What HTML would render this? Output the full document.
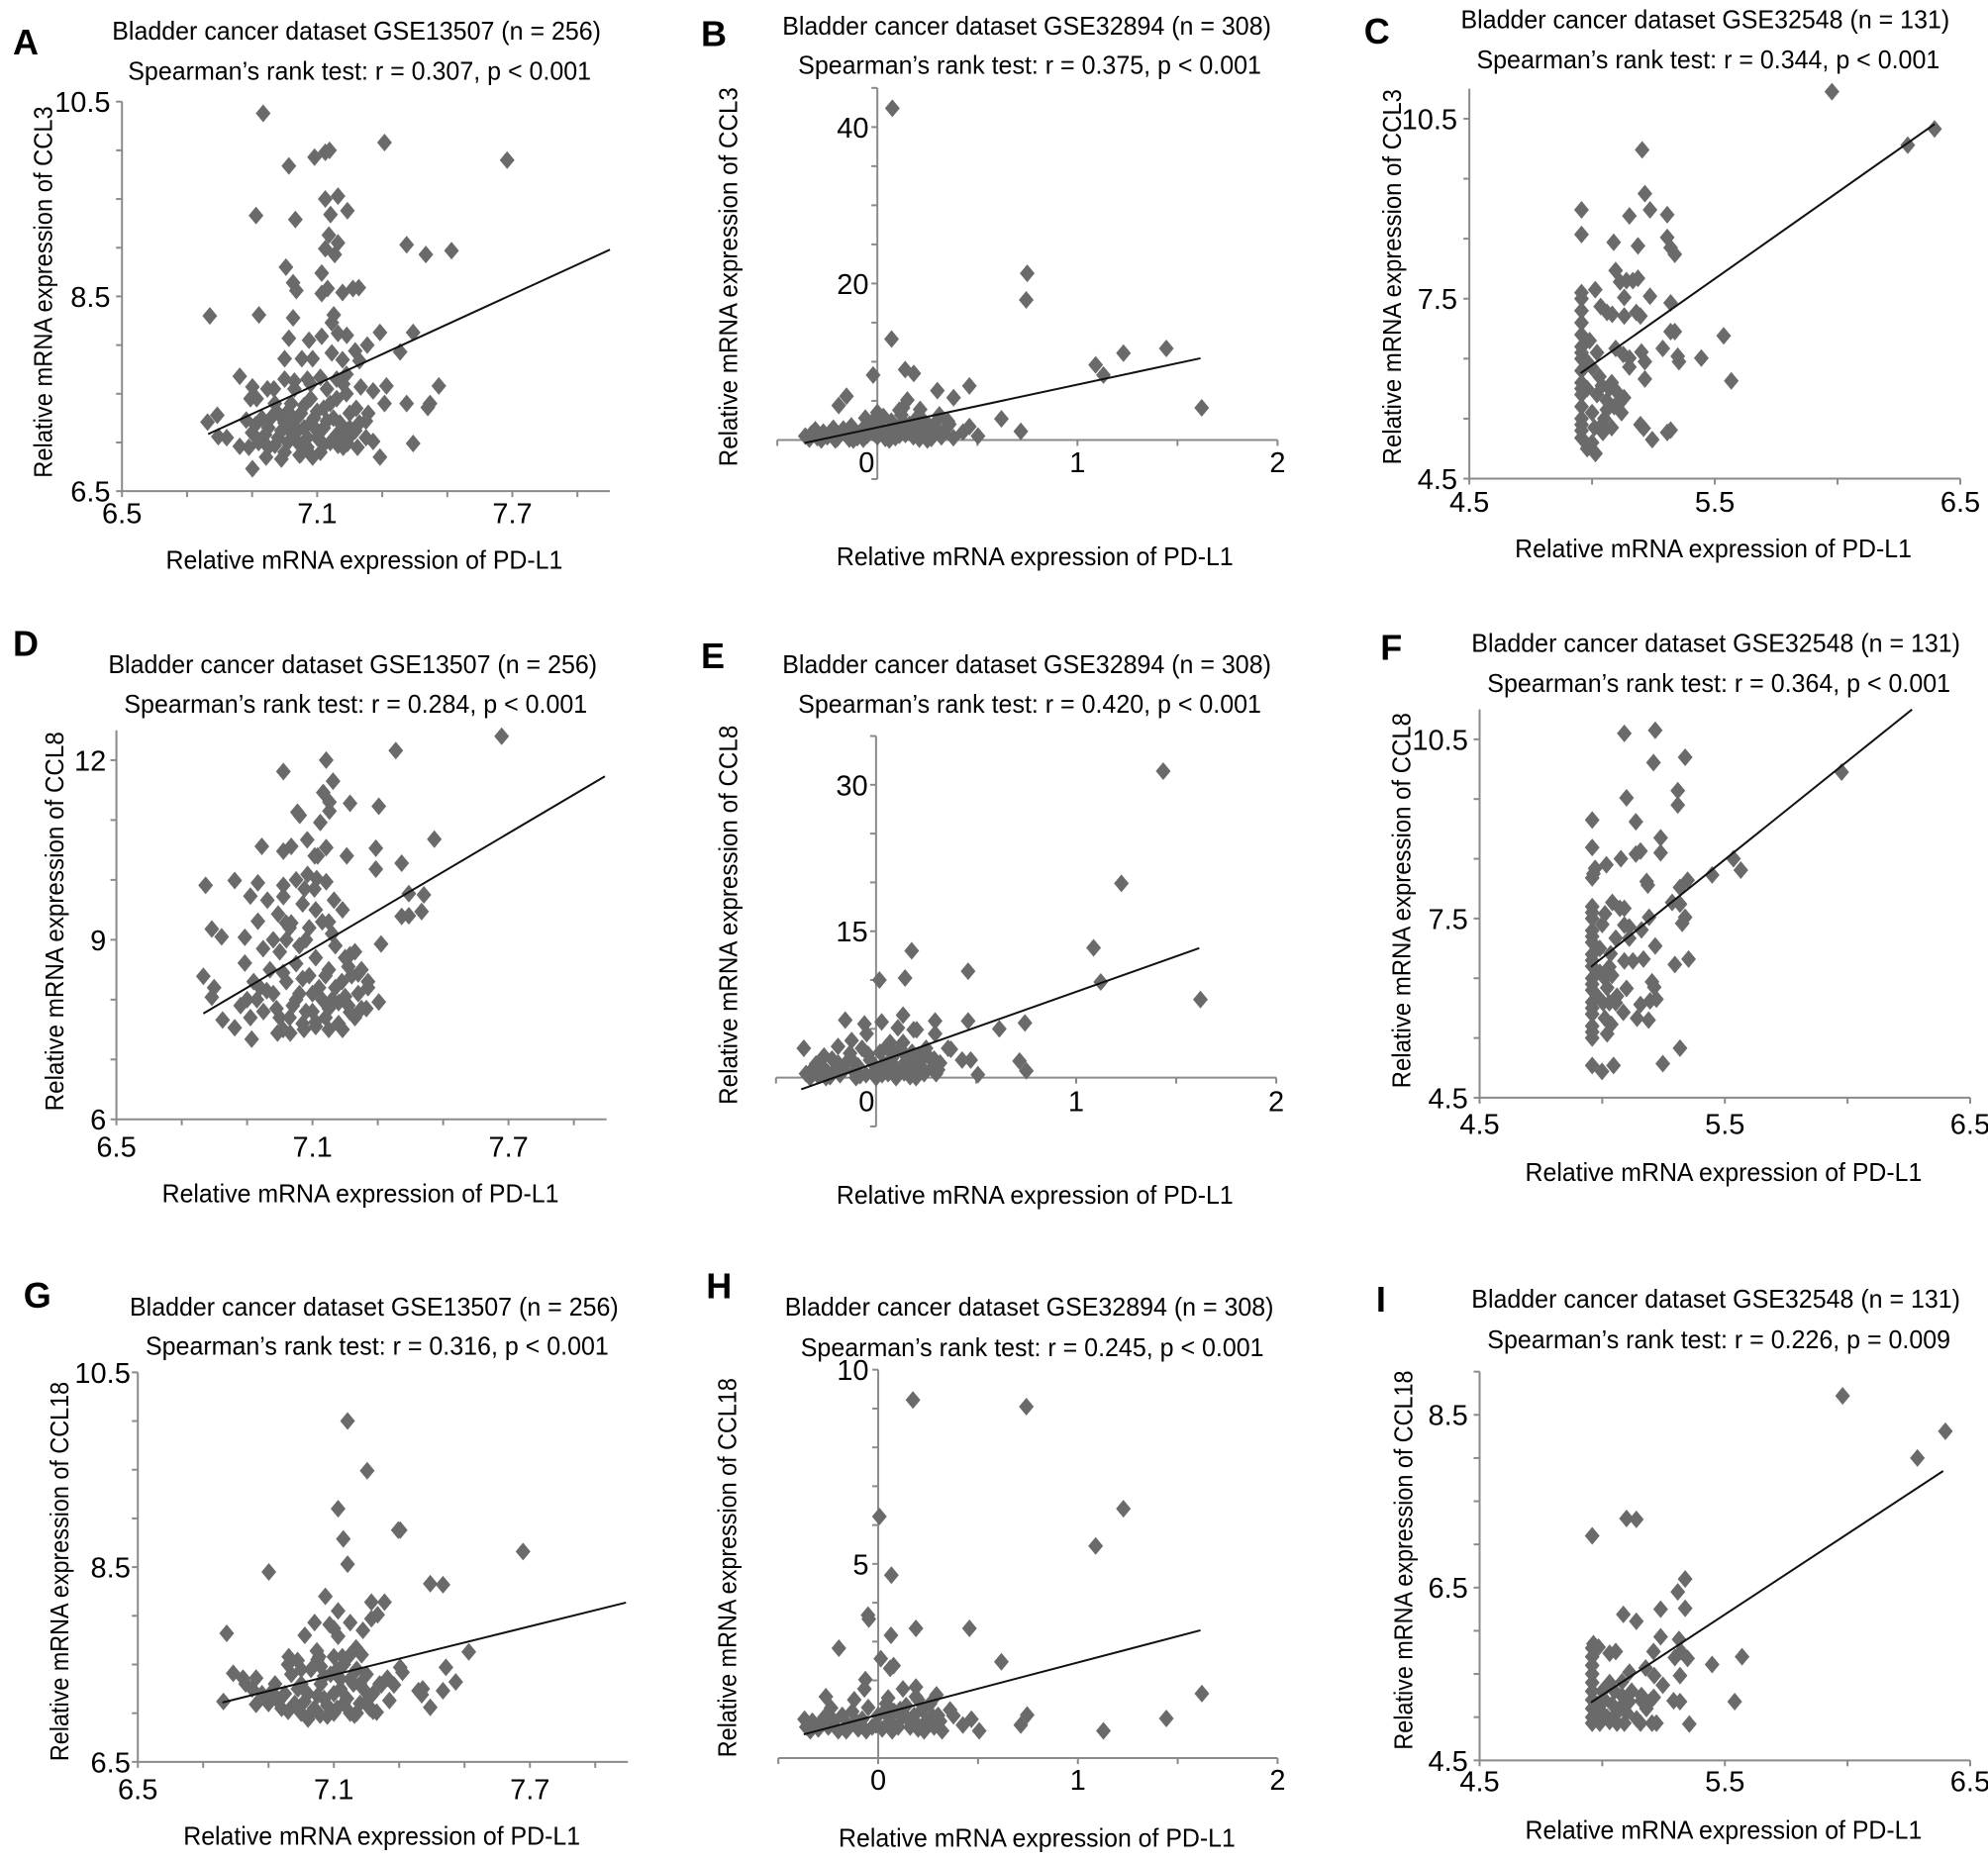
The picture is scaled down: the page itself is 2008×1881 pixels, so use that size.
<!DOCTYPE html>
<html><head><meta charset="utf-8"><title>PD-L1 vs chemokine scatter plots</title>
<style>html,body{margin:0;padding:0;background:#fff}svg{display:block}text{font-family:"Liberation Sans",Arial,sans-serif;fill:#000}</style>
</head><body>
<svg id="fig" xmlns="http://www.w3.org/2000/svg" width="2008" height="1881" viewBox="0 0 2008 1881"></svg>
<script>
const KX=2.313, KY=2.61;
// ---------- data ----------
const ptsA=[[6.934,10.38],[7.307,10.08],[7.684,9.90],[7.138,10.0],[7.125,9.98],[7.092,9.93],[7.013,9.84],[7.125,9.50],[7.164,9.53],[6.912,9.33],[7.033,9.29],[7.193,9.38],[7.141,9.34],[7.136,9.13],[7.164,9.05],[7.125,8.99],[7.154,8.93],[7.375,9.03],[7.434,8.93],[7.513,8.97],[7.004,8.80],[7.114,8.74],[7.026,8.64],[7.036,8.56],[7.132,8.58],[7.114,8.53],[7.178,8.54],[7.21,8.58],[7.228,8.59],[6.77,8.30],[6.921,8.31],[7.026,8.28],[7.151,8.31],[7.145,8.23],[7.293,8.13],[7.395,8.13],[7.013,8.07],[7.075,8.05],[7.114,8.09],[7.164,8.12],[7.191,8.10],[7.254,8.0],[7.355,7.93],[7.0,7.86],[7.053,7.86],[7.086,7.86],[7.145,7.92],[7.178,7.85],[7.217,7.94],[7.23,7.84],[6.862,7.68],[6.901,7.57],[6.947,7.55],[6.967,7.55],[7.0,7.65],[7.03,7.63],[7.07,7.65],[7.11,7.67],[7.16,7.65],[7.19,7.70],[7.234,7.57],[7.272,7.53],[7.313,7.58],[7.474,7.58],[6.895,7.45],[6.914,7.45],[7.307,7.40],[7.375,7.40],[7.44,7.36],[7.447,7.40],[6.763,7.21],[6.793,7.28],[6.882,7.23],[7.25,7.22],[7.257,7.30],[6.796,7.06],[6.822,7.05],[6.862,6.96],[6.901,6.73],[6.943,6.85],[6.99,6.83],[7.046,6.87],[7.086,6.85],[7.164,6.97],[7.193,6.99],[7.224,6.95],[7.272,7.01],[7.293,6.85],[7.395,6.99],[7.217,7.12],
[6.9,7.1],[6.92,7.0],[6.95,7.15],[6.95,6.95],[6.98,7.3],[6.98,7.05],[7.0,7.2],[7.0,6.9],[7.02,7.4],[7.02,7.1],[7.04,7.0],[7.05,7.3],[7.06,7.15],[7.07,6.95],[7.08,7.45],[7.09,7.25],[7.1,7.05],[7.11,6.9],[7.12,7.35],[7.12,7.15],[7.14,7.0],[7.15,7.25],[7.16,7.45],[7.17,7.1],[7.18,6.95],[7.2,7.3],[7.21,7.1],[7.23,7.2],[6.93,7.25],[6.97,7.4],[7.03,7.55],[7.13,7.55],[7.19,7.5],[6.89,6.95],[7.05,6.88],[7.25,7.05],
[6.91,7.18],[6.94,7.08],[6.96,7.26],[6.99,7.12],[7.01,7.0],[7.01,7.32],[7.03,7.22],[7.04,7.12],[7.06,7.38],[7.07,7.05],[7.08,7.2],[7.1,7.32],[7.1,7.12],[7.12,6.98],[7.13,7.22],[7.14,7.4],[7.16,7.08],[7.17,7.2],[7.19,7.03],[7.2,7.15],[7.22,7.35],[7.08,7.6],[7.18,7.6],[6.97,6.97],[7.06,6.97]];
const fitA=[6.765,7.086,8.0,8.98];
const ptsB=[[0.075,42.4],[0.749,21.3],[0.744,17.9],[0.071,12.9],[1.444,11.7],[1.23,11.1],[1.091,9.6],[1.13,8.3],[-0.021,8.3],[0.139,9.0],[0.182,8.5],[1.621,4.1],[0.30,6.3],[0.46,6.9],[0.381,5.4],[-0.154,5.6],[-0.193,4.4],[0.15,5.1],[0.128,4.1],[0.214,3.9],[0.62,2.7],[0.717,1.1],[0.353,2.4],[0.46,1.7],[0.503,0.5],[0.428,1.0],
[-0.36,0.5],[-0.33,0.8],[-0.3,0.3],[-0.27,1.0],[-0.25,0.4],[-0.22,1.5],[-0.2,0.2],[-0.18,0.9],[-0.15,0.5],[-0.13,1.8],[-0.1,0.3],[-0.08,1.2],[-0.05,0.6],[-0.03,2.2],[0.0,0.4],[0.02,1.6],[0.03,3.0],[0.05,0.9],[0.07,2.4],[0.09,0.3],[0.1,1.5],[0.12,3.2],[0.14,0.7],[0.16,2.0],[0.18,0.4],[0.2,1.2],[0.22,2.8],[0.24,0.5],[0.26,1.8],[0.28,0.9],[0.3,2.5],[0.32,0.4],[0.34,1.4],[-0.12,0.0],[0.06,0.0],[0.25,0.0],[-0.28,0.0],[0.0,3.5],[-0.06,2.8],[0.11,3.8],
[-0.34,0.1],[-0.31,1.3],[-0.24,0.9],[-0.21,0.0],[-0.17,1.4],[-0.14,0.1],[-0.11,1.0],[-0.07,0.1],[-0.04,1.5],[-0.02,0.9],[0.01,2.6],[0.04,0.2],[0.08,1.0],[0.11,0.6],[0.13,2.3],[0.17,1.1],[0.19,2.6],[0.21,0.1],[0.23,1.7],[0.27,0.2],[0.29,1.5],[0.31,3.2],[0.33,0.9],[0.36,2.0],[0.38,0.3]];
const fitB=[-0.364,-0.39,1.615,10.44];
const ptsC=[[5.977,10.95],[6.395,10.33],[6.286,10.06],[5.204,9.98],[5.215,9.25],[4.957,8.98],[5.236,8.98],[5.152,8.88],[5.306,8.90],[4.957,8.57],[5.306,8.52],[5.088,8.44],[5.187,8.38],[5.32,8.35],[5.337,8.24],[5.096,7.97],[5.114,7.78],[5.14,7.80],[5.166,7.80],[5.187,7.84],[5.236,7.54],[5.013,7.65],[5.131,7.52],[5.32,7.43],[5.035,7.37],[5.061,7.27],[5.082,7.24],[5.131,7.21],[5.18,7.27],[5.197,7.21],[5.536,6.88],[5.32,6.95],[5.337,6.95],[5.445,6.51],[5.349,6.54],[5.354,6.45],[5.288,6.67],[5.201,6.61],[5.215,6.45],[5.152,6.51],[5.152,6.36],[5.096,6.67],[5.127,6.57],[5.567,6.13],[5.215,6.16],[5.197,5.40],[5.21,5.34],[5.245,5.15],[5.306,5.27],[5.32,5.31],[5.014,4.92],[5.044,5.27],[4.957,5.18],
[4.957,5.3],[4.957,5.5],[4.957,5.7],[4.957,5.9],[4.957,6.1],[4.957,6.3],[4.957,6.5],[4.957,6.7],[4.957,6.9],[4.957,7.1],[4.957,7.3],[4.957,7.5],[4.957,7.6],[4.957,5.4],[4.957,6.0],[4.957,6.6],
[5.0,5.6],[5.02,5.9],[5.03,6.2],[5.05,5.5],[5.06,5.8],[5.08,6.1],[5.09,5.7],[5.1,5.95],[5.12,5.6],[5.04,5.4],[5.0,6.35],[5.02,6.6],[5.07,6.0],[5.13,5.85],[4.98,5.0],[5.0,5.1],
[4.98,6.0],[4.98,6.45],[4.99,6.8],[5.01,5.35],[5.04,6.05],[5.06,5.65],[5.08,5.35],[5.11,5.75]];
const fitC=[4.953,6.257,6.395,10.41];
const ptsD=[[7.679,12.40],[7.355,12.16],[7.142,12.0],[7.011,11.81],[7.163,11.65],[7.133,11.46],[7.215,11.28],[7.152,11.30],[7.152,11.15],[7.303,11.23],[7.054,11.13],[7.061,11.08],[7.124,10.96],[7.473,10.68],[6.945,10.56],[7.011,10.48],[7.035,10.56],[7.084,10.67],[7.142,10.54],[7.107,10.40],[7.116,10.40],[7.205,10.40],[7.294,10.53],[7.294,10.18],[7.373,10.28],[6.773,9.91],[6.862,9.99],[6.933,9.95],[7.011,9.91],[7.05,10.0],[7.085,10.09],[7.113,10.02],[7.142,9.97],[6.91,9.73],[6.962,9.66],[7.011,9.72],[7.076,9.85],[7.106,9.85],[7.166,9.66],[7.192,9.5],[7.395,9.77],[7.441,9.75],[7.373,9.39],[7.395,9.40],[7.434,9.47],[6.792,9.18],[6.822,9.05],[6.893,9.04],[6.933,9.31],[6.995,9.43],[7.019,9.28],[7.035,9.28],[7.31,8.93],[6.766,8.39],[6.799,8.2],[6.792,8.04],[6.825,7.66],[6.862,7.53],[6.914,7.34],[6.993,7.44],[7.032,7.44],[7.074,7.5],[7.11,7.63],[7.15,7.5],[7.192,7.5],[7.215,7.79],[7.25,7.85],[7.265,7.85],[7.303,7.96],[7.27,8.2],[7.24,8.43],[7.215,8.75],[6.893,8.61],[6.949,8.85],
[6.9,8.0],[6.92,8.3],[6.95,7.8],[6.97,8.5],[6.98,8.1],[7.0,7.7],[7.0,8.8],[7.02,8.3],[7.03,9.2],[7.04,7.9],[7.05,8.6],[7.06,8.1],[7.07,7.6],[7.08,9.0],[7.09,8.4],[7.1,7.8],[7.11,8.7],[7.12,8.2],[7.13,9.3],[7.14,7.7],[7.15,8.5],[7.16,8.0],[7.17,8.9],[7.18,7.6],[7.19,8.3],[7.2,8.7],[7.21,7.9],[7.22,8.4],[7.24,8.1],[7.25,8.5],[7.23,8.8],[6.94,8.2],[7.01,7.5],[7.06,8.9],[7.11,9.5],[7.16,9.1],[7.27,8.3],[6.88,7.9],
[6.91,7.7],[6.93,8.0],[6.96,8.15],[6.99,7.85],[7.01,8.45],[7.03,7.7],[7.05,8.0],[7.07,8.35],[7.08,7.8],[7.1,8.1],[7.11,7.55],[7.13,8.0],[7.14,8.4],[7.15,7.85],[7.17,8.2],[7.18,7.95],[7.2,8.05],[7.21,8.55],[7.23,7.7],[7.02,9.0],[7.09,9.2],[7.15,9.3],[7.07,9.6],[6.98,9.0]];
const fitD=[6.766,7.768,7.995,11.73];
const ptsE=[[1.435,31.4],[1.226,19.9],[1.087,13.3],[1.123,9.8],[1.621,8.0],[0.178,13.0],[0.46,10.9],[0.145,10.2],[0.017,10.0],[0.744,5.6],[0.616,5.0],[0.46,5.8],[0.295,5.8],[-0.154,5.9],[-0.058,5.5],[0.028,5.7],[0.109,5.1],[0.135,6.4],[0.188,4.9],[0.203,4.9],[0.295,4.5],[0.717,1.7],[0.751,0.7],[0.509,0.3],[0.36,3.0],[0.374,2.9],[0.43,1.8],[0.473,1.8],[-0.361,3.0],[-0.19,3.2],[-0.122,3.8],[0.07,3.6],[0.135,3.6],[-0.047,4.5],
[-0.35,0.4],[-0.32,0.8],[-0.29,0.2],[-0.27,1.2],[-0.24,0.5],[-0.22,1.9],[-0.2,0.9],[-0.18,0.3],[-0.15,1.5],[-0.13,2.5],[-0.11,0.6],[-0.09,1.2],[-0.07,3.0],[-0.05,0.3],[-0.03,1.8],[0.0,0.8],[0.02,2.6],[0.04,1.4],[0.06,0.4],[0.08,2.0],[0.1,1.0],[0.12,3.0],[0.14,0.5],[0.16,1.7],[0.18,2.6],[0.2,0.9],[0.22,1.6],[0.24,0.4],[0.26,2.2],[0.28,1.0],[0.3,0.4],[0.32,1.5],[-0.25,0.0],[0.0,0.0],[0.1,0.0],[-0.1,0.0],[0.2,0.0],
[-0.33,0.0],[-0.3,1.4],[-0.26,2.2],[-0.23,0.1],[-0.19,1.5],[-0.16,0.8],[-0.12,1.8],[-0.08,0.2],[-0.04,2.4],[-0.01,1.3],[0.03,0.3],[0.05,3.1],[0.07,1.0],[0.09,2.4],[0.13,1.2],[0.15,2.2],[0.17,0.1],[0.21,2.3],[0.23,1.0],[0.25,3.0],[0.29,1.9],[0.31,0.8]];
const fitE=[-0.374,-1.2,1.615,13.27];
const ptsF=[[5.216,10.65],[5.09,10.60],[5.338,10.20],[5.209,10.11],[5.976,9.95],[5.308,9.64],[5.308,9.40],[5.099,9.52],[4.959,9.15],[5.137,9.12],[5.238,8.85],[5.238,8.60],[4.959,8.69],[5.076,8.50],[5.137,8.58],[5.156,8.63],[5.017,8.40],[4.971,8.34],[4.959,8.18],[4.964,8.25],[5.535,8.50],[5.565,8.31],[5.448,8.23],[5.181,8.12],[5.186,8.06],[5.348,8.14],[5.317,8.02],[5.285,7.77],[5.317,7.74],[5.338,7.52],[5.326,7.42],[5.041,7.77],[5.072,7.67],[5.09,7.67],[5.011,7.58],[5.191,7.52],[5.09,7.39],[5.11,7.36],[5.16,7.31],[5.055,7.17],[5.11,7.17],[5.216,7.04],[5.352,6.82],[5.296,6.73],[5.09,6.79],[5.125,6.79],[5.168,6.82],[5.034,6.91],[5.029,6.69],[5.203,6.44],[5.212,6.35],[5.099,6.33],[5.02,6.34],[5.156,6.06],[5.195,6.12],[5.221,6.15],[5.086,5.93],[5.142,5.83],[5.189,5.80],[5.003,6.09],[5.029,6.09],[5.055,6.09],[5.011,5.83],[5.037,5.73],[5.02,5.57],[5.317,5.33],[5.247,5.07],[4.959,5.04],[4.999,4.94],[5.046,5.04],
[4.959,5.5],[4.959,5.7],[4.959,5.9],[4.959,6.1],[4.959,6.3],[4.959,6.5],[4.959,6.7],[4.959,6.9],[4.959,7.1],[4.959,7.3],[4.959,7.5],[4.959,7.7],[4.959,5.6],[4.959,6.0],[4.959,6.4],[4.959,6.8],[4.959,7.2],[4.959,7.6],
[4.98,6.2],[4.99,6.6],[4.99,7.0],[5.0,7.4],[5.01,6.5],[5.04,6.55],[5.06,6.2]];
const fitF=[4.954,6.69,6.263,11.0];
const ptsG=[[7.142,10.0],[7.202,9.49],[7.113,9.10],[7.297,8.88],[7.303,8.88],[7.129,8.79],[7.679,8.66],[7.142,8.53],[6.901,8.45],[7.395,8.33],[7.434,8.32],[7.074,8.20],[7.215,8.14],[7.255,8.14],[7.113,8.05],[7.215,7.97],[7.234,8.01],[7.041,7.93],[7.087,7.91],[7.1,7.87],[7.15,7.93],[7.189,7.85],[7.011,7.80],[7.113,7.79],[6.772,7.82],[7.168,7.67],[7.513,7.63],[7.048,7.64],[7.055,7.58],[6.962,7.58],[6.989,7.54],[7.1,7.58],[7.126,7.58],[7.185,7.60],[7.303,7.47],[7.31,7.42],[7.443,7.47],[6.792,7.41],[6.822,7.36],[6.862,7.36],[7.473,7.32],[7.434,7.23],[7.359,7.23],[7.372,7.25],[7.369,7.19],[7.264,7.36],[7.245,7.29],[7.284,7.29],[6.762,7.12],[6.862,7.09],[7.27,7.13],[7.395,7.06],[7.231,7.01],[7.163,6.98],[7.021,6.94],[7.058,6.98],
[6.88,7.2],[6.9,7.1],[6.92,7.3],[6.94,7.05],[6.95,7.2],[6.97,7.4],[6.98,7.1],[7.0,7.0],[7.0,7.3],[7.02,7.2],[7.03,7.45],[7.04,7.05],[7.06,7.3],[7.07,7.15],[7.08,6.97],[7.09,7.4],[7.1,7.2],[7.11,7.05],[7.12,7.35],[7.13,7.5],[7.14,7.15],[7.15,7.0],[7.16,7.3],[7.17,7.45],[7.18,7.1],[7.19,7.25],[7.2,7.4],[7.21,7.05],[7.22,7.2],[7.24,7.3],[7.05,7.55],[7.15,7.6],[6.96,7.5],[6.85,7.25],[6.83,7.3],
[6.91,7.22],[6.93,7.12],[6.96,7.02],[6.99,7.25],[7.01,7.12],[7.03,7.0],[7.05,7.18],[7.07,7.38],[7.08,7.08],[7.1,7.0],[7.12,7.25],[7.13,7.1],[7.15,7.35],[7.17,7.0],[7.18,7.3],[7.2,7.12],[7.22,7.02],[7.11,7.45],[7.06,7.48],[7.0,7.45]];
const fitG=[6.759,7.11,7.994,8.136];
const ptsH=[[0.174,9.22],[0.742,9.05],[1.228,6.42],[0.006,6.22],[1.089,5.46],[0.066,4.71],[-0.051,3.68],[-0.047,3.58],[0.189,3.34],[0.457,3.34],[0.064,3.16],[-0.197,2.83],[0.013,2.56],[0.06,2.31],[0.077,2.38],[0.617,2.48],[-0.064,2.02],[-0.069,1.78],[0.124,1.78],[0.189,1.83],[0.189,1.58],[0.292,1.63],[1.621,1.66],[-0.262,1.58],[0.746,1.11],[0.714,0.85],[1.443,1.02],[1.128,0.70],[0.506,0.70],[0.36,1.24],[0.377,1.09],[0.467,1.0],[0.424,0.85],[-0.236,1.29],[-0.369,1.0],
[-0.36,0.8],[-0.33,0.95],[-0.3,0.75],[-0.27,1.05],[-0.25,0.8],[-0.22,0.95],[-0.2,0.7],[-0.18,1.1],[-0.15,0.85],[-0.13,1.2],[-0.1,0.75],[-0.08,1.0],[-0.05,1.3],[-0.03,0.8],[0.0,1.1],[0.02,0.75],[0.04,1.4],[0.06,0.95],[0.08,1.2],[0.1,0.8],[0.12,1.05],[0.14,1.35],[0.16,0.8],[0.18,1.1],[0.2,0.75],[0.22,1.25],[0.24,0.95],[0.26,1.4],[0.28,0.8],[0.3,1.1],[0.32,0.7],[-0.12,1.5],[0.05,1.55],[0.2,1.5],
[-0.34,0.7],[-0.29,0.9],[-0.24,1.0],[-0.16,0.7],[-0.11,0.95],[-0.06,0.7],[-0.01,0.85],[0.03,1.2],[0.07,0.7],[0.11,1.25],[0.15,1.0],[0.19,0.9],[0.23,0.7],[0.27,1.1],[0.31,0.95]];
const fitH=[-0.373,0.61,1.614,3.29];
const ptsI=[[5.98,8.72],[6.399,8.31],[6.285,8.0],[5.099,7.30],[5.139,7.29],[4.959,7.10],[5.338,6.60],[5.308,6.45],[5.338,6.26],[5.086,6.19],[5.238,6.25],[5.139,6.11],[5.238,5.93],[5.313,5.90],[4.964,5.85],[4.985,5.81],[5.03,5.74],[5.055,5.76],[5.209,5.76],[5.57,5.70],[5.448,5.61],[5.296,5.69],[5.321,5.76],[5.348,5.68],[5.177,5.57],[5.212,5.48],[5.247,5.37],[5.317,5.48],[5.111,5.52],[5.081,5.41],[5.54,5.18],[5.291,5.19],[5.317,5.18],[5.355,4.92],[5.156,4.93],[5.203,4.93],[5.221,4.93],[5.09,4.93],[5.16,5.19],[5.19,5.17],[5.21,5.23],
[4.959,4.93],[4.959,5.0],[4.959,5.1],[4.959,5.2],[4.959,5.3],[4.959,5.4],[4.959,5.5],[4.959,5.6],[4.959,5.7],[4.959,5.8],
[4.99,4.93],[5.02,5.0],[5.04,5.15],[5.06,4.93],[5.08,5.25],[5.1,5.05],[5.12,5.3],[5.14,4.98],[5.0,5.3],[5.03,5.4],[5.07,5.1],[5.11,5.18],[5.16,5.25],[5.18,5.1],[5.2,5.2],
[4.98,5.15],[5.0,5.05],[5.01,5.2],[5.03,4.95],[5.05,5.3],[5.06,5.05],[5.09,5.15]];
const fitI=[4.954,5.17,6.39,7.85];
// tick label arrays
const xLabelsCL=[6.5,7.1,7.7], xLabelsRel=[0,1,2], xLabelsGSE2=[4.5,5.5,6.5];
const yLabelsA=[6.5,8.5,10.5], yLabelsB=[20,40], yLabelsC=[4.5,7.5,10.5];
const yLabelsD=[6,9,12], yLabelsE=[15,30], yLabelsF=[4.5,7.5,10.5];
const yLabelsG=[6.5,8.5,10.5], yLabelsH=[5,10], yLabelsI=[4.5,6.5,8.5];
const titlesL1=["Bladder cancer dataset GSE13507 (n = 256)","Bladder cancer dataset GSE32894 (n = 308)","Bladder cancer dataset GSE32548 (n = 131)"];
const titlesL2=["Spearman\u2019s rank test: r = 0.307, p < 0.001","Spearman\u2019s rank test: r = 0.375, p < 0.001","Spearman\u2019s rank test: r = 0.344, p < 0.001","Spearman\u2019s rank test: r = 0.284, p < 0.001","Spearman\u2019s rank test: r = 0.420, p < 0.001","Spearman\u2019s rank test: r = 0.364, p < 0.001","Spearman\u2019s rank test: r = 0.316, p < 0.001","Spearman\u2019s rank test: r = 0.245, p < 0.001","Spearman\u2019s rank test: r = 0.226, p = 0.009"];
const genes=["CCL3","CCL8","CCL18"];

function rng(a,b,s){const o=[];for(let v=a;v<=b+1e-9;v+=s)o.push(Math.round(v*1000)/1000);return o;}
const panels=[
{id:'a',L:'A',cx:0,cy:0,pts:ptsA,fit:fitA,xm:[6.5,285,7.7,1197],ym:[6.5,1295,10.5,268],xr:[6.5,8.0],yr:[6.5,10.5],ax:6.5,ay:6.5,xt:rng(6.5,7.9,0.2),yt:rng(6.5,10.5,0.5),xl:xLabelsCL,yl:yLabelsA,xlb:1380,ylr:258,let:[30,143],t1:[833,105],t2:[840,210],yt_:[122,770,980],xtt:[851,1500],r:0,c:0},
{id:'b',L:'B',cx:670,cy:0,pts:ptsB,fit:fitB,xm:[0,500,2,1435],ym:[0,1160,40,335],xr:[-0.5,2],yr:[-5,45],ax:0,ay:0,xt:rng(-0.5,2,0.5),yt:rng(-5,45,5),xl:xLabelsRel,yl:yLabelsB,xlb:1245,ylr:480,let:[88,122],t1:[849,92],t2:[856,195],yt_:[172,730,1000],xtt:[868,1490],r:0,c:1,zshift:-25},
{id:'c',L:'C',cx:1338,cy:0,pts:ptsC,fit:fitC,xm:[4.5,338,6.5,1485],ym:[4.5,1262,10.5,313],xr:[4.5,6.5],yr:[4.5,11.0],ax:4.5,ay:4.5,xt:rng(4.5,6.5,0.5),yt:rng(4.5,10.5,1),xl:xLabelsGSE2,yl:yLabelsC,xlb:1350,ylr:310,let:[92,115],t1:[889,75],t2:[896,180],yt_:[178,730,990],xtt:[908,1470],r:0,c:2},
{id:'d',L:'D',cx:0,cy:630,pts:ptsD,fit:fitD,xm:[6.5,272,7.7,1188],ym:[6,1307,12,360],xr:[6.5,8.0],yr:[6,12.5],ax:6.5,ay:6,xt:rng(6.5,7.9,0.2),yt:rng(6,12,1),xl:xLabelsCL,yl:yLabelsD,xlb:1405,ylr:248,let:[30,85],t1:[824,130],t2:[831,235],yt_:[148,785,1000],xtt:[842,1525],r:1,c:0},
{id:'e',L:'E',cx:670,cy:630,pts:ptsE,fit:fitE,xm:[0,497,2,1432],ym:[0,1197,30,425],xr:[-0.5,2],yr:[-5,35],ax:0,ay:0,xt:rng(-0.5,2,0.5),yt:rng(-5,35,5),xl:xLabelsRel,yl:yLabelsE,xlb:1285,ylr:478,let:[88,118],t1:[849,130],t2:[856,235],yt_:[172,768,1000],xtt:[868,1530],r:1,c:1,zshift:-22},
{id:'f',L:'F',cx:1338,cy:630,pts:ptsF,fit:fitF,xm:[4.5,362,6.5,1508],ym:[4.5,1250,10.5,305],xr:[4.5,6.5],yr:[4.5,11.0],ax:4.5,ay:4.5,xt:rng(4.5,6.5,0.5),yt:rng(4.5,10.5,1),xl:xLabelsGSE2,yl:yLabelsF,xlb:1345,ylr:335,let:[130,95],t1:[914,75],t2:[921,180],yt_:[200,730,990],xtt:[932,1470],r:1,c:2},
{id:'g',L:'G',cx:0,cy:1281,pts:ptsG,fit:fitG,xm:[6.5,322,7.7,1238],ym:[6.5,1302,10.5,275],xr:[6.5,8.0],yr:[6.5,10.5],ax:6.5,ay:6.5,xt:rng(6.5,7.9,0.2),yt:rng(6.5,10.5,0.5),xl:xLabelsCL,yl:yLabelsG,xlb:1400,ylr:305,let:[55,105],t1:[874,125],t2:[881,228],yt_:[160,800,1000],xtt:[892,1520],r:2,c:0},
{id:'h',L:'H',cx:670,cy:1281,pts:ptsH,fit:fitH,xm:[0,502,2,1435],ym:[0,1292,10,268],xr:[-0.5,2],yr:[0,10],ax:0,ay:0,xt:rng(-0.5,2,0.5),yt:rng(0,10,1),xl:xLabelsRel,yl:yLabelsH,xlb:1375,ylr:480,let:[100,80],t1:[855,125],t2:[862,232],yt_:[170,790,1000],xtt:[873,1525],r:2,c:1,zshift:0},
{id:'i',L:'I',cx:1338,cy:1281,pts:ptsI,fit:fitI,xm:[4.5,362,6.5,1508],ym:[4.5,1298,8.5,387],xr:[4.5,6.5],yr:[4.5,9.0],ax:4.5,ay:4.5,xt:rng(4.5,6.5,0.5),yt:rng(4.5,9.0,0.5),xl:xLabelsGSE2,yl:yLabelsI,xlb:1380,ylr:335,let:[120,115],t1:[914,105],t2:[921,212],yt_:[205,770,1000],xtt:[932,1505],r:2,c:2}
];
const NS='http://www.w3.org/2000/svg';
const svg=document.getElementById('fig');
function mk(tag,attrs,parent){const e=document.createElementNS(NS,tag);for(const k in attrs)e.setAttribute(k,attrs[k]);parent.appendChild(e);return e;}
panels.forEach((p,pi)=>{
  const zx=v=>p.xm[1]+(v-p.xm[0])*(p.xm[3]-p.xm[1])/(p.xm[2]-p.xm[0]);
  const zy=v=>p.ym[1]+(v-p.ym[0])*(p.ym[3]-p.ym[1])/(p.ym[2]-p.ym[0]);
  const X=v=>p.cx+zx(v)/KX, Y=v=>p.cy+zy(v)/KY;
  const PX=z=>p.cx+z/KX, PY=z=>p.cy+z/KY;
  const g=mk('g',{},svg);
  
  
  const lt=mk('text',{x:PX(p.let[0]),y:PY(p.let[1]),'font-size':36,'font-weight':'bold'},g);
  
  
  lt.textContent=p.L;
  const t1=mk('text',{x:PX(p.t1[0]),y:PY(p.t1[1]),'font-size':26,'text-anchor':'middle',textLength:1142/KX,lengthAdjust:'spacingAndGlyphs'},g);
  
  
  t1.textContent=titlesL1[p.c];
  const t2=mk('text',{x:PX(p.t2[0]),y:PY(p.t2[1]),'font-size':26,'text-anchor':'middle',textLength:1082/KX,lengthAdjust:'spacingAndGlyphs'},g);
  
  
  t2.textContent=titlesL2[pi];
  const yx=PX(p.yt_[0]), yy=PY(p.yt_[1]);
  const yti=mk('text',{x:yx,y:yy,'font-size':26,'text-anchor':'middle',transform:`rotate(-90 ${yx} ${yy})`,textLength:p.yt_[2]/KY,lengthAdjust:'spacingAndGlyphs'},g);
  
  
  yti.textContent='Relative mRNA expression of '+genes[p.r];
  const xti=mk('text',{x:PX(p.xtt[0]),y:PY(p.xtt[1]),'font-size':26,'text-anchor':'middle',textLength:927/KX,lengthAdjust:'spacingAndGlyphs'},g);
  
  
  xti.textContent='Relative mRNA expression of PD-L1';
  const xa=mk('line',{x1:X(p.xr[0]),x2:X(p.xr[1]),y1:Y(p.ay),y2:Y(p.ay),stroke:'#8a8a8a','stroke-width':2},g);
  
  
  const ya=mk('line',{x1:X(p.ax),x2:X(p.ax),y1:Y(p.yr[0]),y2:Y(p.yr[1]),stroke:'#8a8a8a','stroke-width':2},g);
  
  
  p.xt.forEach(v=>{const t=mk('line',{x1:X(v),x2:X(v),y1:Y(p.ay),y2:Y(p.ay)+6,stroke:'#8a8a8a','stroke-width':2},g);
    
    });
  p.yt.forEach(v=>{const t=mk('line',{x1:X(p.ax)-6,x2:X(p.ax),y1:Y(v),y2:Y(v),stroke:'#8a8a8a','stroke-width':2},g);
    
    });
  p.xl.forEach(v=>{const sh=(v===0&&p.zshift)?p.zshift/KX:0;
    const t=mk('text',{x:X(v)+sh,y:PY(p.xlb),'font-size':29,'text-anchor':'middle'},g);
    
    
    t.textContent=String(v);});
  p.yl.forEach(v=>{const t=mk('text',{x:PX(p.ylr),y:Y(v),dy:'0.36em','font-size':29,'text-anchor':'end'},g);
    
    
    t.textContent=String(v);});
  p.pts.forEach(d=>{const cx=X(d[0]),cy=Y(d[1]);
    const m=mk('path',{d:`M${cx} ${cy-9}L${cx+7.5} ${cy}L${cx} ${cy+9}L${cx-7.5} ${cy}Z`,fill:'#6a6a6a'},g);
    
    });
  const f=p.fit;
  const rl=mk('line',{x1:X(f[0]),y1:Y(f[1]),x2:X(f[2]),y2:Y(f[3]),stroke:'#111','stroke-width':2},g);
  
  
});
</script>
</body></html>
